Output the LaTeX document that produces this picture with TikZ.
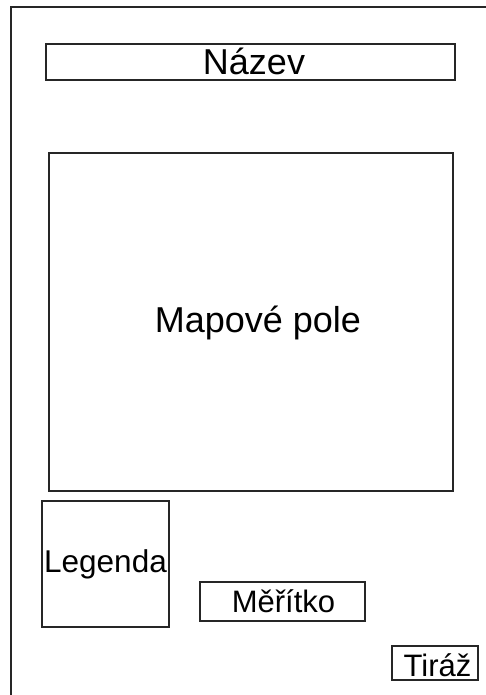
\documentclass[tikz,border=0pt]{standalone}
\usepackage{fontspec}
\setmainfont{Liberation Sans}
\begin{document}
\begin{tikzpicture}[x=1pt,y=-1pt,
  boxnode/.style={draw=black!85,line width=1.1pt,inner sep=0pt,text depth=0pt,font=\fontsize{#1}{#1}\selectfont},
  frameline/.style={draw=black!85,line width=1.4pt}]
\useasboundingbox (0,0) rectangle (486,695);
\coordinate (fbl) at (11,700);
\coordinate (ftl) at (11,7);
\coordinate (ftr) at (490,7);
\draw[frameline] (fbl) -- (ftl) -- (ftr);
\node[boxnode=36,text height=25.8pt,minimum width=409pt,minimum height=36pt] (title) at (250.5,62) {\hspace{7pt}Název};
\node[boxnode=36,text height=25.8pt,minimum width=404pt,minimum height=338pt] (map) at (251,322) {\hspace{14pt}\raisebox{2pt}{Mapové pole}};
\node[boxnode=31.5,text height=22.6pt,minimum width=127pt,minimum height=126pt] (legend) at (105.5,564) {\raisebox{3pt}{Legenda}};
\node[boxnode=31,text height=22.2pt,minimum width=165pt,minimum height=39pt] (scale) at (282.5,601.5) {\hspace{2pt}Měřítko};
\node[boxnode=31,text height=22.2pt,minimum width=86pt,minimum height=34pt] (imprint) at (435,663) {\hspace{5pt}\raisebox{-2pt}{Tiráž}};
\end{tikzpicture}
\end{document}
